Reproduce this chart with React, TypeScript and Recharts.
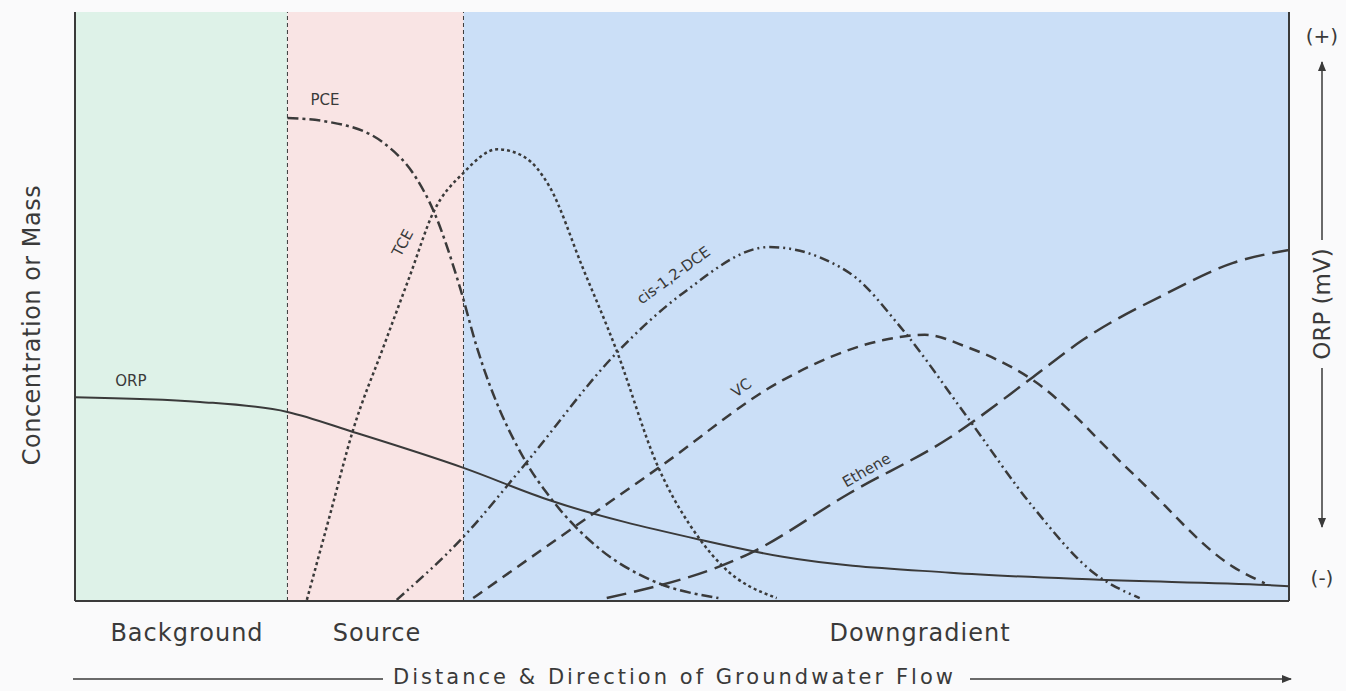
import React from 'react';
import { LineChart, Line, XAxis, YAxis, ReferenceArea, ReferenceLine, ReferenceDot } from 'recharts';

// distance along flow path (0-100) vs relative concentration (0-100)
const pce = [
  { x: 17.5, y: 82 }, { x: 21, y: 81.3 }, { x: 25.4, y: 77.8 }, { x: 28.2, y: 71.5 },
  { x: 29.5, y: 66.4 }, { x: 31.7, y: 53.3 }, { x: 33.1, y: 43.1 }, { x: 37.2, y: 23.4 },
  { x: 39.1, y: 17.7 }, { x: 43.3, y: 8.7 }, { x: 47.4, y: 3.6 }, { x: 53, y: 0.5 },
];
const tce = [
  { x: 19.1, y: 0.2 }, { x: 21, y: 14.6 }, { x: 22.9, y: 29 }, { x: 25.4, y: 43.1 },
  { x: 27.6, y: 55.3 }, { x: 29.5, y: 65.9 }, { x: 32, y: 72.7 }, { x: 34.8, y: 76.7 },
  { x: 37, y: 75.4 }, { x: 39.1, y: 70.3 }, { x: 41.8, y: 56.7 }, { x: 44.6, y: 42.6 },
  { x: 47.9, y: 23.4 }, { x: 51.5, y: 10.4 }, { x: 53.4, y: 5.8 }, { x: 57.8, y: 0.5 },
];
const dce = [
  { x: 26.5, y: 0.2 }, { x: 32, y: 10.9 }, { x: 36.9, y: 22.8 }, { x: 44.6, y: 42.1 },
  { x: 50.1, y: 52.3 }, { x: 57.2, y: 60.1 }, { x: 63.8, y: 55.7 }, { x: 68, y: 46.5 },
  { x: 73.5, y: 31.2 }, { x: 78.9, y: 16 }, { x: 83.9, y: 4.8 }, { x: 87.7, y: 0.5 },
];
const vc = [
  { x: 32.8, y: 0.5 }, { x: 40.8, y: 12.1 }, { x: 48.2, y: 22.8 }, { x: 58.3, y: 37.5 },
  { x: 66.6, y: 44.3 }, { x: 70, y: 45.2 }, { x: 73.5, y: 43.1 }, { x: 78.9, y: 37.5 },
  { x: 87.1, y: 21.7 }, { x: 95.4, y: 5.8 }, { x: 98, y: 3 },
];
const ethene = [
  { x: 43.8, y: 0.5 }, { x: 55.6, y: 8.1 }, { x: 63.8, y: 18.3 }, { x: 72.1, y: 27.8 },
  { x: 78.9, y: 38 }, { x: 83, y: 44.3 }, { x: 90, y: 52.3 },
  { x: 95.4, y: 57.4 }, { x: 100, y: 59.6 },
];
const orp = [
  { x: 0, y: 34.6 }, { x: 10.3, y: 33.8 }, { x: 17.5, y: 32.1 }, { x: 22.9, y: 28.7 },
  { x: 32, y: 22.6 }, { x: 39.1, y: 17.1 }, { x: 51.5, y: 10.4 }, { x: 58.3, y: 7.5 },
  { x: 72.1, y: 4.8 }, { x: 84.4, y: 3.6 }, { x: 98.2, y: 2.7 }, { x: 100, y: 2.5 },
];

const zones = [
  { name: 'Background', x1: 0, x2: 17.5, fill: '#def2e8' },
  { name: 'Source', x1: 17.5, x2: 32, fill: '#f9e4e4' },
  { name: 'Downgradient', x1: 32, x2: 100, fill: '#cbdff7' },
];

const curveLabels = [
  { text: 'PCE', x: 20.6, y: 85.1, angle: 0 },
  { text: 'TCE', x: 27, y: 60.8, angle: -62 },
  { text: 'cis-1,2-DCE', x: 49.3, y: 55.3, angle: -36 },
  { text: 'VC', x: 54.9, y: 36.2, angle: -36 },
  { text: 'Ethene', x: 65.2, y: 22.2, angle: -30 },
  { text: 'ORP', x: 4.6, y: 37.4, angle: 0 },
];

const INK = '#3a3a3a';
const FONT = '"DejaVu Sans", sans-serif';

const App: React.FC = () => {
  return (
    <div style={{ position: 'absolute', left: 0, top: 0, width: 1346, height: 691, background: '#fafafb' }}>
      <LineChart width={1346} height={691} margin={{ top: 12, right: 57, bottom: 90, left: 75 }}>
        <XAxis type="number" dataKey="x" domain={[0, 100]} hide allowDataOverflow />
        <YAxis type="number" dataKey="y" domain={[0, 100]} hide allowDataOverflow />
        {zones.map(z => (
          <ReferenceArea key={z.name} x1={z.x1} x2={z.x2} y1={0} y2={100} fill={z.fill} fillOpacity={1} stroke="none" />
        ))}
        <ReferenceLine x={17.5} stroke={INK} strokeDasharray="4 3" strokeWidth={1} />
        <ReferenceLine x={32} stroke={INK} strokeDasharray="4 3" strokeWidth={1} />
        <ReferenceLine x={0} stroke={INK} strokeWidth={2} />
        <ReferenceLine x={100} stroke={INK} strokeWidth={2} />
        <ReferenceLine y={0} stroke={INK} strokeWidth={2} />

        <Line data={orp} dataKey="y" type="monotone" stroke={INK} strokeWidth={2} dot={false} isAnimationActive={false} />
        <Line data={pce} dataKey="y" type="monotone" stroke={INK} strokeWidth={2.5} strokeDasharray="11 4 3 4" dot={false} isAnimationActive={false} />
        <Line data={tce} dataKey="y" type="monotone" stroke={INK} strokeWidth={2.5} strokeDasharray="3 3" dot={false} isAnimationActive={false} />
        <Line data={dce} dataKey="y" type="monotone" stroke={INK} strokeWidth={2.5} strokeDasharray="10 4 2 4 2 4" dot={false} isAnimationActive={false} />
        <Line data={vc} dataKey="y" type="monotone" stroke={INK} strokeWidth={2.5} strokeDasharray="11 7" dot={false} isAnimationActive={false} />
        <Line data={ethene} dataKey="y" type="monotone" stroke={INK} strokeWidth={2.5} strokeDasharray="20 8" dot={false} isAnimationActive={false} />

        {curveLabels.map(l => (
          <ReferenceDot
            key={l.text}
            x={l.x}
            y={l.y}
            r={0}
            shape={(p: any) => (
              <text
                x={p.cx}
                y={p.cy}
                transform={`rotate(${l.angle} ${p.cx} ${p.cy})`}
                textAnchor="middle"
                dominantBaseline="central"
                fontFamily={FONT}
                fontSize={15}
                fill={INK}
              >
                {l.text}
              </text>
            )}
          />
        ))}
      </LineChart>

      <svg width={1346} height={691} style={{ position: 'absolute', left: 0, top: 0, pointerEvents: 'none' }}>
        <defs>
          <marker id="arrow" viewBox="0 0 10 10" refX="9" refY="5" markerWidth="10" markerHeight="10" markerUnits="userSpaceOnUse" orient="auto">
            <path d="M0,1 L10,5 L0,9 z" fill={INK} />
          </marker>
        </defs>
        <text x={32} y={325} transform="rotate(-90 32 325)" textAnchor="middle" dominantBaseline="central" fontFamily={FONT} fontSize={24} letterSpacing={0.5} fill={INK}>
          Concentration or Mass
        </text>
        <text x={187} y={641} textAnchor="middle" fontFamily={FONT} fontSize={24} letterSpacing={1} fill={INK}>Background</text>
        <text x={377} y={641} textAnchor="middle" fontFamily={FONT} fontSize={24} letterSpacing={1} fill={INK}>Source</text>
        <text x={920} y={641} textAnchor="middle" fontFamily={FONT} fontSize={24} letterSpacing={1} fill={INK}>Downgradient</text>

        <line x1={73} y1={679} x2={383} y2={679} stroke={INK} strokeWidth={1.5} />
        <text x={673} y={677} textAnchor="middle" dominantBaseline="central" fontFamily={FONT} fontSize={21} textLength={560} fill={INK}>
          Distance &amp; Direction of Groundwater Flow
        </text>
        <line x1={970} y1={679} x2={1291} y2={679} stroke={INK} strokeWidth={1.5} markerEnd="url(#arrow)" />

        <text x={1322} y={36} textAnchor="middle" dominantBaseline="central" fontFamily={FONT} fontSize={20} fill={INK}>(+)</text>
        <line x1={1322} y1={240} x2={1322} y2={62} stroke={INK} strokeWidth={1.5} markerEnd="url(#arrow)" />
        <text x={1322} y={304} transform="rotate(-90 1322 304)" textAnchor="middle" dominantBaseline="central" fontFamily={FONT} fontSize={23} fill={INK}>
          ORP (mV)
        </text>
        <line x1={1322} y1={368} x2={1322} y2={527} stroke={INK} strokeWidth={1.5} markerEnd="url(#arrow)" />
        <text x={1322} y={578} textAnchor="middle" dominantBaseline="central" fontFamily={FONT} fontSize={20} fill={INK}>(-)</text>
      </svg>
    </div>
  );
};

export default App;
